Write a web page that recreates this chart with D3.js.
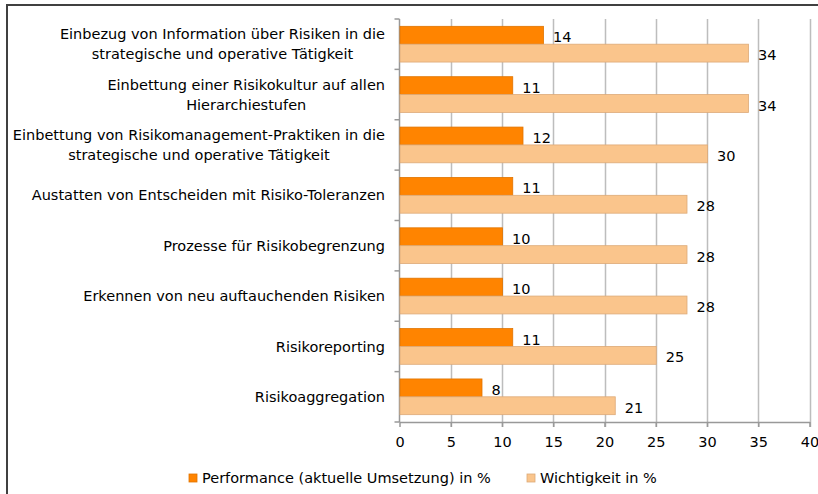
<!DOCTYPE html>
<html><head><meta charset="utf-8">
<script src="https://cdn.jsdelivr.net/npm/d3@7"></script>
<style>
html,body{margin:0;padding:0;background:#fff;}
svg{display:block;font-family:"DejaVu Sans",sans-serif;}
</style></head>
<body>
<svg id="chart" width="818" height="494"></svg>
<script>
const categories = [
  ["Einbezug von Information über Risiken in die","strategische und operative Tätigkeit"],
  ["Einbettung einer Risikokultur auf allen","Hierarchiestufen"],
  ["Einbettung von Risikomanagement-Praktiken in die","strategische und operative Tätigkeit"],
  ["Austatten von Entscheiden mit Risiko-Toleranzen"],
  ["Prozesse für Risikobegrenzung"],
  ["Erkennen von neu auftauchenden Risiken"],
  ["Risikoreporting"],
  ["Risikoaggregation"]
];
const performance = [14, 11, 12, 11, 10, 10, 11, 8];
const wichtigkeit = [34, 34, 30, 28, 28, 28, 25, 21];
const seriesNames = ["Performance (aktuelle Umsetzung) in %", "Wichtigkeit in %"];
const xTicks = [0,5,10,15,20,25,30,35,40];

const colors = ["#FF8400", "#FAC58C"];
const strokes = ["#E07400", "#DDAA78"];

(function(){
const svg = d3.select("#chart");
const fontSize = 14.5;

svg.append("line").attr("x1",6).attr("x2",818).attr("y1",5).attr("y2",5).attr("stroke","#404040").attr("stroke-width",2);
svg.append("line").attr("x1",7).attr("x2",7).attr("y1",4).attr("y2",494).attr("stroke","#404040").attr("stroke-width",2);

const pl = 399.5, pr = 809.5, pt = 19, pb = 422;
const x = d3.scaleLinear().domain([0,40]).range([pl,pr]);
const y = d3.scaleBand().domain(d3.range(categories.length)).range([pt,pb]).paddingInner(0).paddingOuter(0);
const inner = d3.scaleBand().domain([0,1]).range([0,y.bandwidth()]).paddingOuter(0.41).paddingInner(0);

svg.append("g").selectAll("line").data(xTicks.slice(1)).join("line")
  .attr("x1",d=>Math.round(x(d))+0.5).attr("x2",d=>Math.round(x(d))+0.5)
  .attr("y1",pt).attr("y2",pb+5)
  .attr("stroke","#BDBDBD").attr("stroke-width",1.5);

const xAxis = svg.append("g").attr("transform",`translate(0,${pb})`)
  .call(d3.axisBottom(x).tickValues(xTicks).tickSize(5).tickSizeOuter(0));
xAxis.select(".domain").attr("stroke","#999").attr("stroke-width",1.5);
xAxis.selectAll(".tick line").attr("stroke","#999").attr("stroke-width",1.5);
xAxis.selectAll("text").attr("font-size",fontSize).attr("font-family","DejaVu Sans").attr("fill","#000").attr("dy","1.15em");

const yAxis = svg.append("g");
yAxis.append("line").attr("x1",pl).attr("x2",pl).attr("y1",pt).attr("y2",pb).attr("stroke","#999").attr("stroke-width",1.5);
yAxis.selectAll("line.t").data(d3.range(categories.length+1)).join("line").attr("class","t")
  .attr("x1",pl-5).attr("x2",pl)
  .attr("y1",i=>pt + i*y.step()).attr("y2",i=>pt + i*y.step())
  .attr("stroke","#999").attr("stroke-width",1.5);

const series = [performance, wichtigkeit];
series.forEach((vals,s)=>{
  svg.append("g").selectAll("rect").data(vals).join("rect")
    .attr("x",x(0)+0.5)
    .attr("y",(d,i)=>y(i)+inner(s))
    .attr("width",d=>x(d)-x(0))
    .attr("height",inner.bandwidth())
    .attr("fill",colors[s]).attr("stroke",strokes[s]).attr("stroke-width",0.8);
  svg.append("g").selectAll("text").data(vals).join("text")
    .attr("x",d=>x(d)+10)
    .attr("y",(d,i)=>y(i)+inner(s)+inner.bandwidth()/2+2)
    .attr("dy","0.35em")
    .attr("font-size",fontSize).attr("fill","#000")
    .text(d=>d);
});

const lab = svg.append("g");
categories.forEach((lines,i)=>{
  const cy = y(i)+y.bandwidth()/2;
  const lh = 20;
  const t = lab.append("text").attr("text-anchor","end").attr("font-size",fontSize).attr("fill","#000");
  lines.forEach((ln,j)=>{
    t.append("tspan").attr("x",385).attr("y",cy + (j-(lines.length-1)/2)*lh).attr("dy","0.35em").text(ln);
  });
});
lab.selectAll("text").each(function(){
  const tsp = d3.select(this).selectAll("tspan").nodes();
  if(tsp.length>1){
    const w0 = tsp[0].getComputedTextLength();
    tsp.forEach(n=>{
      const w = n.getComputedTextLength();
      d3.select(n).attr("x", 385 - (w0-w)/2);
    });
  }
});

const legend = svg.append("g");
const legX = [189, 527];
seriesNames.forEach((n,s)=>{
  legend.append("rect").attr("x",legX[s]).attr("y",474).attr("width",8).attr("height",8)
    .attr("fill",colors[s]).attr("stroke",strokes[s]).attr("stroke-width",0.8);
  legend.append("text").attr("x",legX[s]+13).attr("y",478).attr("dy","0.35em")
    .attr("font-size",fontSize).attr("fill","#000").text(n);
});
})();
</script>
</body></html>
